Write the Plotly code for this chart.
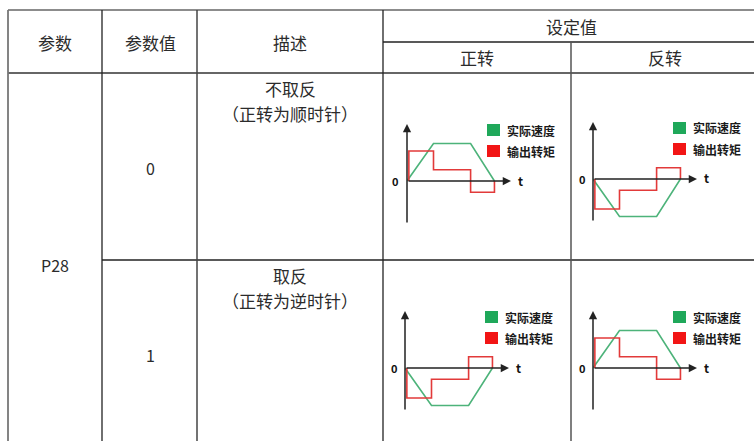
import plotly.graph_objects as go

W, H = 754, 441

# ---------------- data ----------------
header_top = ["参数", "参数值", "描述", "设定值"]
header_sub = ["正转", "反转"]
param_name = "P28"
param_values = ["0", "1"]
desc_main = ["不取反", "取反"]
desc_sub = ["（正转为顺时针）", "（正转为逆时针）"]
legend_labels = ["实际速度", "输出转矩"]

# normalized curves (time units, value units)
speed_t = [0, 1.0, 2.4, 3.3]
speed_v = [0, 1.0, 1.0, 0]
torque_t = [0.07, 0.07, 1.0, 1.0, 2.4, 2.4, 3.3, 3.3]
torque_v = [0, 0.8, 0.8, 0.3, 0.3, -0.3, -0.3, 0]
# sign per cell: [row][正转, 反转]
direction_sign = [[1, -1], [-1, 1]]

# ---------------- styling / geometry ----------------
FONT = "Noto Sans CJK SC, Microsoft YaHei, sans-serif"
TXT = "#2b2b2b"
GREEN_LINE = "#4db37a"
RED_LINE = "#e23a3a"
GREEN_BOX = "#1fa85a"
RED_BOX = "#f21515"

origins = [(407, 181), (593, 179), (405, 368), (593, 368)]
SX, SY = 26.5, 37.5          # pixels per unit
XLEN, YUP, YDN = 104, 57, 43  # axis extents in px


def px(x):
    return x / W


def py(y):
    return 1 - y / H


fig = go.Figure()
shapes = []
annotations = []


def hline(y, x0, x1, color="#333", w=1.3):
    shapes.append(dict(type="line", xref="paper", yref="paper",
                       x0=px(x0), x1=px(x1), y0=py(y), y1=py(y),
                       line=dict(color=color, width=w)))


def vline(x, y0, y1, color="#333", w=1.3):
    shapes.append(dict(type="line", xref="paper", yref="paper",
                       x0=px(x), x1=px(x), y0=py(y0), y1=py(y1),
                       line=dict(color=color, width=w)))


hline(10, 8, 754, color="#666", w=1.6)
hline(42, 383, 754, color="#222")
hline(73, 8, 754, color="#333", w=1.5)
hline(260, 102, 754, color="#222")
vline(8, 10, 441, color="#777", w=1.8)
vline(102, 10, 441, color="#222")
vline(197, 10, 441, color="#444", w=1.5)
vline(383, 10, 441, color="#222")
vline(571, 42, 441, color="#555", w=1.5)


def text(x, y, s, size=18, bold=False, anchor="center", color=TXT):
    annotations.append(dict(xref="paper", yref="paper", x=px(x), y=py(y),
                            text=f"<b>{s}</b>" if bold else s,
                            showarrow=False, xanchor=anchor, yanchor="middle",
                            font=dict(family=FONT, size=size, color=color)))


# header
text(55, 42, header_top[0], size=17)
text(150, 42, header_top[1], size=17)
text(290, 42, header_top[2], size=17)
text(571, 26, header_top[3], size=17)
text(477, 58, header_sub[0], size=17)
text(665, 58, header_sub[1], size=17)

# body
text(55, 265, param_name, size=16)
text(150, 168, param_values[0], size=16)
text(150, 355, param_values[1], size=16)
text(290, 88, desc_main[0], size=17)
text(290, 113, desc_sub[0], size=17)
text(290, 275, desc_main[1], size=17)
text(290, 300, desc_sub[1], size=17)

# mini charts
for k, (ox, oy) in enumerate(origins):
    row, col = divmod(k, 2)
    sgn = direction_sign[row][col]
    xa = "xaxis" if k == 0 else f"xaxis{k+1}"
    ya = "yaxis" if k == 0 else f"yaxis{k+1}"
    xr = "x" if k == 0 else f"x{k+1}"
    yr = "y" if k == 0 else f"y{k+1}"
    fig.layout[xa] = dict(domain=[px(ox), px(ox + XLEN)], range=[0, XLEN / SX],
                          visible=False, fixedrange=True, anchor=yr)
    fig.layout[ya] = dict(domain=[py(oy + YDN), py(oy - YUP)],
                          range=[-YDN / SY, YUP / SY],
                          visible=False, fixedrange=True, anchor=xr)
    annotations.append(dict(xref=xr, yref=yr, axref=xr, ayref=yr,
                            x=0, y=YUP / SY, ax=0, ay=-YDN / SY, text="",
                            showarrow=True, arrowhead=2, arrowsize=1.1,
                            arrowwidth=1.5, arrowcolor="#222", standoff=0))
    annotations.append(dict(xref=xr, yref=yr, axref=xr, ayref=yr,
                            x=XLEN / SX, y=0, ax=0, ay=0, text="",
                            showarrow=True, arrowhead=2, arrowsize=1.1,
                            arrowwidth=1.5, arrowcolor="#222", standoff=0))
    fig.add_trace(go.Scatter(x=speed_t, y=[sgn * v for v in speed_v],
                             mode="lines", line=dict(color=GREEN_LINE, width=1.6),
                             xaxis=xr, yaxis=yr, showlegend=False, hoverinfo="skip"))
    fig.add_trace(go.Scatter(x=torque_t, y=[sgn * v for v in torque_v],
                             mode="lines", line=dict(color=RED_LINE, width=1.6),
                             xaxis=xr, yaxis=yr, showlegend=False, hoverinfo="skip"))
    text(ox - 11, oy, "0", size=11, bold=True, color="#111")
    text(ox + XLEN + 9, oy - 1, "t", size=12, bold=True, color="#111")
    for j, (c, dy) in enumerate([(GREEN_BOX, -51), (RED_BOX, -30)]):
        shapes.append(dict(type="rect", xref="paper", yref="paper",
                           x0=px(ox + 80), x1=px(ox + 93),
                           y0=py(oy + dy + 6), y1=py(oy + dy - 6),
                           fillcolor=c, line=dict(width=0)))
        text(ox + 98, oy + dy, legend_labels[j], size=12, bold=True,
             anchor="left", color="#1a1a1a")

fig.update_layout(width=W, height=H, margin=dict(l=0, r=0, t=0, b=0),
                  paper_bgcolor="white", plot_bgcolor="rgba(0,0,0,0)",
                  shapes=shapes, annotations=annotations, showlegend=False)

fig.write_html("out.html", config={"displayModeBar": False},
               post_script="document.body.style.margin='0';document.body.style.overflow='hidden';")
